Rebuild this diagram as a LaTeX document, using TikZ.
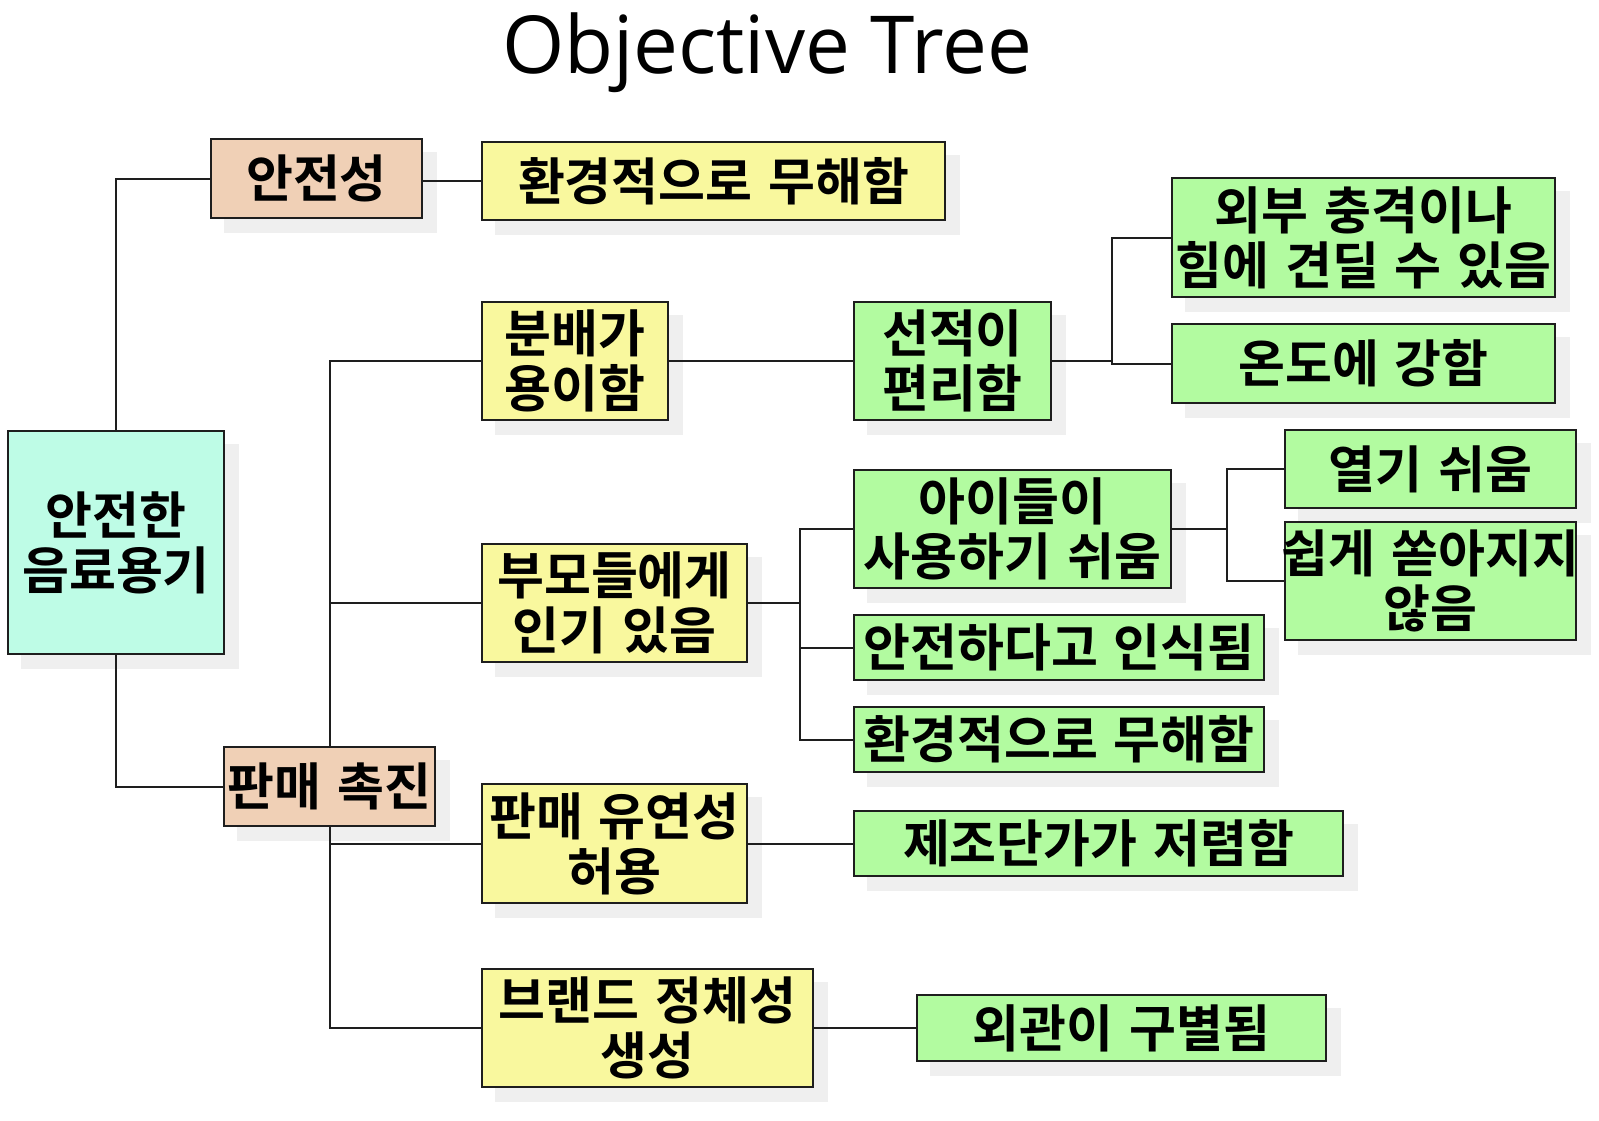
\documentclass[tikz,border=0pt]{standalone}
\usepackage{fontspec}
\usepackage{xcolor}
\usepackage{tikz}
\newfontfamily\krfont{Noto Sans CJK KR Bold}
\newfontfamily\titlefont{Open Sans}
\newcommand\krset{\krfont\fontsize{25.5}{27.5}\selectfont\spaceskip=7.8pt\relax}
\definecolor{mintbox}{RGB}{190,252,230}
\definecolor{peachbox}{RGB}{240,208,182}
\definecolor{lemonbox}{RGB}{249,248,158}
\definecolor{limebox}{RGB}{178,251,160}
\definecolor{shadegray}{RGB}{239,239,239}
\definecolor{edgegray}{RGB}{30,30,30}
\pgfdeclarelayer{shade}
\pgfdeclarelayer{wire}
\pgfsetlayers{shade,wire,main}

\begin{document}
\begin{tikzpicture}[x=0.5pt,y=-0.5pt,
  box/.style={draw=edgegray,line width=1pt,inner sep=0pt,align=center,font=\krset},
  goal/.style={box,fill=mintbox},
  aim/.style={box,fill=peachbox},
  mid/.style={box,fill=lemonbox},
  leaf/.style={box,fill=limebox},
  wirel/.style={draw=edgegray,line width=1pt}]
  \useasboundingbox (0,0) rectangle (1599,1120);

  \node[font=\titlefont\fontsize{40}{40}\selectfont,anchor=base] (title) at (767,73) {Objective Tree};

  \node[goal,minimum width=108pt,minimum height=111.5pt] (root) at (116,542.5) {안전한\\음료용기};
  \node[aim,minimum width=105.5pt,minimum height=39.5pt] (safe) at (316.5,178.5) {안전성};
  \node[aim,minimum width=105.5pt,minimum height=39.5pt] (promo) at (329.5,786.5) {판매 촉진};

  \node[mid,minimum width=231.5pt,minimum height=39pt] (envA) at (713.5,181) {환경적으로 무해함};
  \node[mid,minimum width=93pt,minimum height=59pt] (dist) at (575,361) {분배가\\용이함};
  \node[mid,minimum width=132.5pt,minimum height=59pt] (parent) at (614.5,603) {부모들에게\\인기 있음};
  \node[mid,minimum width=132.5pt,minimum height=59.5pt] (flex) at (614.5,843.5) {판매 유연성\\허용};
  \node[mid,minimum width=165.5pt,minimum height=59pt] (brand) at (647.5,1028) {브랜드 정체성\\생성};

  \node[leaf,minimum width=98.5pt,minimum height=59pt] (ship) at (952.5,361) {선적이\\편리함};
  \node[leaf,minimum width=191.5pt,minimum height=59.5pt] (shock) at (1363.5,237.5) {외부 충격이나\\힘에 견딜 수 있음};
  \node[leaf,minimum width=191.5pt,minimum height=39.5pt] (temp) at (1363.5,363.5) {온도에 강함};
  \node[leaf,minimum width=158.5pt,minimum height=59pt] (kids) at (1012.5,529) {아이들이\\사용하기 쉬움};
  \node[leaf,minimum width=145.5pt,minimum height=39pt] (open) at (1430.5,469) {열기 쉬움};
  \node[leaf,minimum width=145.5pt,minimum height=59pt,inner xsep=-1.5pt] (spill) at (1430.5,581) {쉽게 쏟아지지\\않음};
  \node[leaf,minimum width=205pt,minimum height=32.5pt] (perceived) at (1059,647.5) {안전하다고 인식됨};
  \node[leaf,minimum width=205pt,minimum height=32.5pt] (envB) at (1059,739.5) {환경적으로 무해함};
  \node[leaf,minimum width=244.5pt,minimum height=32.5pt] (cost) at (1098.5,843.5) {제조단가가 저렴함};
  \node[leaf,minimum width=204.5pt,minimum height=33pt] (look) at (1121.5,1028) {외관이 구별됨};

  \coordinate (js) at (1112,0);
  \coordinate (jp) at (800,0);
  \coordinate (jk) at (1227,0);

  \begin{pgfonlayer}{shade}
    \fill[white] (0,0) rectangle (1599,1120);
    \foreach \n in {root,safe,promo,envA,dist,parent,flex,brand,ship,shock,temp,
      kids,open,spill,perceived,envB,cost,look}
      \fill[shadegray] ([xshift=7pt,yshift=-7pt]\n.south west) rectangle ([xshift=7pt,yshift=-7pt]\n.north east);
  \end{pgfonlayer}

  \begin{pgfonlayer}{wire}
    \draw[wirel] (root.north) |- (safe.west);
    \draw[wirel] (root.south) |- (promo.west);
    \draw[wirel] (envA.west -| safe.east) -- (envA.west);
    % trunk behind the promo box
    \draw[wirel] (dist.west) -| (brand.west -| promo.center) -- (brand.west);
    \draw[wirel] (parent.west -| promo.center) -- (parent.west);
    \draw[wirel] (flex.west -| promo.center) -- (flex.west);
    \draw[wirel] (dist.east) -- (ship.west);
    \draw[wirel] (flex.east) -- (cost.west);
    \draw[wirel] (brand.east) -- (look.west);
    \draw[wirel] (ship.east) -- (ship.east -| js);
    \draw[wirel] (shock.west) -| (js |- temp.west) -- (temp.west);
    \draw[wirel] (parent.east) -- (parent.east -| jp);
    \draw[wirel] (kids.west) -| (jp |- envB.west) -- (envB.west);
    \draw[wirel] (perceived.west -| jp) -- (perceived.west);
    \draw[wirel] (kids.east) -- (kids.east -| jk);
    \draw[wirel] (open.west) -| (jk |- spill.west) -- (spill.west);
  \end{pgfonlayer}
\end{tikzpicture}
\end{document}
